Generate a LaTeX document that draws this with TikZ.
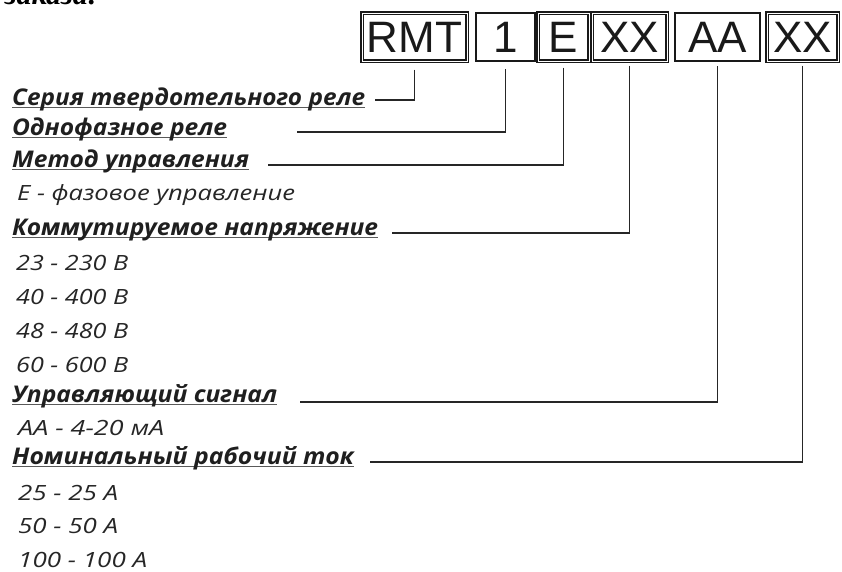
\documentclass[tikz,border=0pt]{standalone}
\usepackage{fontspec}
\usepackage{graphicx}
\setmainfont{Open Sans}
\newfontfamily\boxfont{Liberation Sans}
\newfontfamily\serfont{Liberation Serif}
\newcommand\ulx[1]{\setbox0\hbox{#1}\rlap{\color{black!65}\rule[-3pt]{\wd0}{1.5pt}}\box0}
\newcommand\fitw[2]{\resizebox{#1pt}{\height}{#2}}
\begin{document}
\begin{tikzpicture}[x=1pt,y=-1pt,
  lab/.style={anchor=base west, inner sep=0pt, text=black!88, font=\fontsize{23}{23}\selectfont\bfseries\itshape},
  item/.style={anchor=base west, inner sep=0pt, text=black!85, font=\fontsize{21}{21}\selectfont\itshape},
  cbox/.style={draw=black!90, line width=2.4pt, inner sep=0pt, minimum height=48pt, font=\boxfont\fontsize{44}{44}\selectfont, text=black!90},
  dbl/.style={double=white, double distance=0.9pt, line width=1.3pt},
  conn/.style={draw=black!85, line width=1.8pt},
]
\useasboundingbox (0,0) rectangle (842,571);
% fragment of preceding text
\node[anchor=base east, inner sep=0pt, font=\serfont\fontsize{30}{30}\selectfont\bfseries\itshape] (frag) at (98,4) {заказа:};
% code boxes
\node[cbox, dbl, minimum width=105pt] (rmt) at (414.5,37) {RMT};
\node[cbox, minimum width=59pt] (one) at (505.5,37) {1};
\node[cbox, dbl, minimum width=51pt] (e) at (563.5,37) {E};
\node[cbox, dbl, minimum width=75pt] (xa) at (629.5,37) {XX};
\node[cbox, minimum width=85pt] (aa) at (717.5,37) {AA};
\node[cbox, dbl, minimum width=71pt] (xb) at (802.5,37) {XX};
% labels
\node[lab] (l1) at (12,105) {\ulx{\fitw{353}{Серия твердотельного реле}}};
\node[lab] (l2) at (12,135) {\ulx{\fitw{215}{Однофазное реле}}};
\node[lab] (l3) at (12,167) {\ulx{\fitw{237}{Метод управления}}};
\node[item] (i1) at (17,200) {\fitw{278}{Е - фазовое управление}};
\node[lab] (l4) at (12,235) {\ulx{\fitw{366}{Коммутируемое напряжение}}};
\node[item] (i2) at (16,270) {\fitw{112}{23 - 230 В}};
\node[item] (i3) at (16,304) {\fitw{112}{40 - 400 В}};
\node[item] (i4) at (16,338) {\fitw{112}{48 - 480 В}};
\node[item] (i5) at (16,372) {\fitw{112}{60 - 600 В}};
\node[lab] (l5) at (12,402) {\ulx{\fitw{265}{Управляющий сигнал}}};
\node[item] (i6) at (18,435) {\fitw{146}{АА - 4-20 мА}};
\node[lab] (l6) at (12,464) {\ulx{\fitw{342}{Номинальный рабочий ток}}};
\node[item] (i7) at (18,500) {\fitw{100}{25 - 25 А}};
\node[item] (i8) at (18,533) {\fitw{100}{50 - 50 А}};
\node[item] (i9) at (18,567) {\fitw{129}{100 - 100 А}};
% connector ends
\coordinate (c1) at (375,100);
\coordinate (c2) at (297,132);
\coordinate (c3) at (268,165);
\coordinate (c4) at (392,233);
\coordinate (c5) at (300,402);
\coordinate (c6) at (370,462);
\draw[conn] ([yshift=-8pt]rmt.south) |- (c1);
\draw[conn] ([yshift=-7pt]one.south) |- (c2);
\draw[conn] ([yshift=-6pt]e.south) |- (c3);
\draw[conn] ([yshift=-4pt]xa.south) |- (c4);
\draw[conn] ([yshift=-4pt]aa.south) |- (c5);
\draw[conn] ([yshift=-4pt]xb.south) |- (c6);
\end{tikzpicture}
\end{document}
